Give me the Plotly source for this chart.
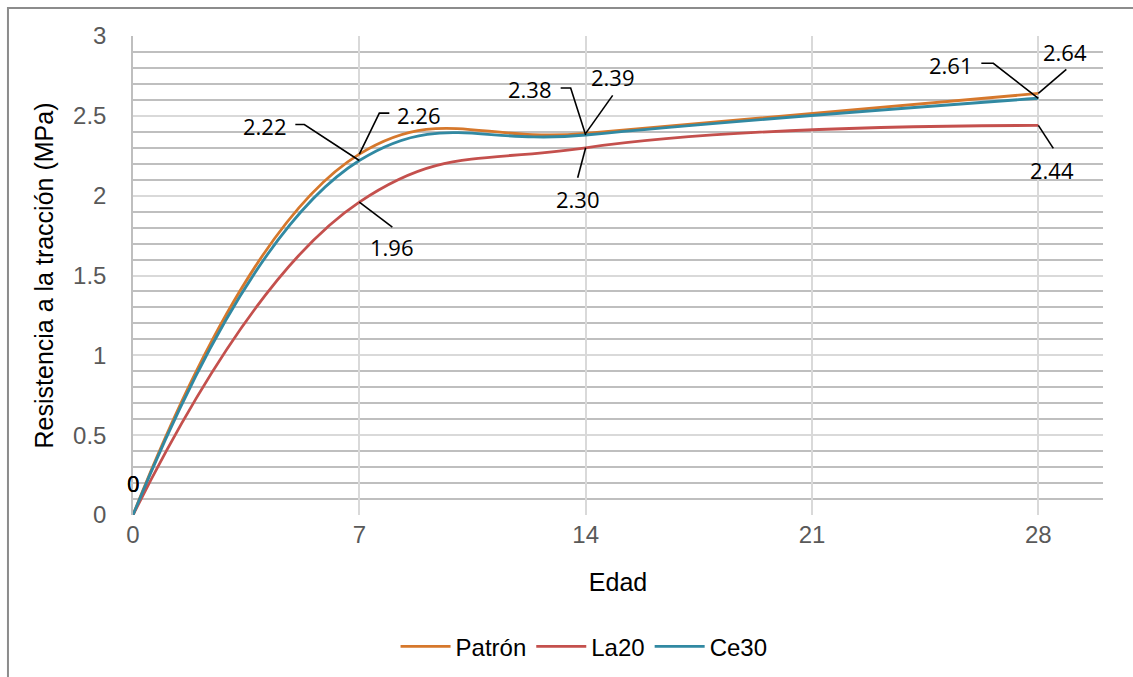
import plotly.graph_objects as go

# Tensile strength (MPa) by curing age (days)
edad = [0, 7, 14, 28]
patron = [0, 2.26, 2.39, 2.64]
la20 = [0, 1.96, 2.30, 2.44]
ce30 = [0, 2.22, 2.38, 2.61]

x_ticks = [0, 7, 14, 21, 28]
y_ticks = [0, 0.5, 1, 1.5, 2, 2.5, 3]

colors = {"Patrón": "#D6782C", "La20": "#C4504D", "Ce30": "#3189A2"}

series = [("Patrón", patron), ("La20", la20), ("Ce30", ce30)]

# Label placement: pixel offset of label centre, and leader polyline (pixels, y up)
label_style = {
    "Patrón": [((0, 32), None), ((60, 39), [(0, 0), (20, 41), (30, 41)]),
               ((27, 56), [(0, 0), (27, 38)]), ((27, 41), [(0, 0), (28, 24)])],
    "La20": [((0, 32), None), ((33, -45), [(0, 0), (33, -25)]),
             ((-8, -51), [(0, 0), (-8, -30)]), ((14, -45), [(0, 0), (15, -23)])],
    "Ce30": [((0, 32), None), ((-94, 35), [(0, 0), (-55, 36), (-64, 36)]),
             ((-56, 46), [(0, 0), (-15, 47), (-25, 47)]),
             ((-87, 33), [(0, 0), (-45, 35), (-57, 35)])],
}

fig = go.Figure()

for name, vals in series:
    fig.add_trace(go.Scatter(
        x=edad, y=vals, name=name, mode="lines",
        line=dict(color=colors[name], width=2.8, shape="spline", smoothing=1.2),
        hoverinfo="x+y+name",
    ))

annotations = []
shapes = []
for name, vals in series:
    for xv, yv, (lab_off, leader) in zip(edad, vals, label_style[name]):
        txt = "0" if yv == 0 else f"{yv:.2f}"
        annotations.append(dict(
            x=xv, y=yv, xref="x", yref="y", text=txt, showarrow=False,
            xshift=lab_off[0], yshift=lab_off[1],
            font=dict(family="Open Sans, Liberation Sans, sans-serif", size=22, color="#000000"),
        ))
        if leader:
            path = "M " + " L ".join(f"{px},{py}" for px, py in leader)
            shapes.append(dict(
                type="path", xref="x", yref="y", xsizemode="pixel", ysizemode="pixel",
                xanchor=xv, yanchor=yv, path=path,
                line=dict(color="#000000", width=1.6), layer="above",
            ))

# Outer chart frame
shapes.append(dict(
    type="rect", xref="paper", yref="paper",
    x0=-0.1289, x1=1.2, y0=-0.5, y1=1.0585,
    line=dict(color="#8C8C8C", width=2), fillcolor="rgba(0,0,0,0)", layer="below",
))

fig.update_layout(
    width=1133, height=677,
    margin=dict(l=133, r=30, t=36, b=162, autoexpand=False),
    paper_bgcolor="white", plot_bgcolor="white",
    font=dict(family="Liberation Sans, Arial, sans-serif", size=24, color="#595959"),
    showlegend=True,
    legend=dict(
        orientation="h", x=0.465, xanchor="center", y=-0.275, yanchor="middle",
        font=dict(size=24, color="#000000"), itemwidth=50, traceorder="normal",
        bgcolor="rgba(0,0,0,0)",
    ),
    annotations=annotations,
    shapes=shapes,
)

fig.update_xaxes(
    range=[0, 30], tickvals=x_ticks, ticktext=[str(v) for v in x_ticks],
    showgrid=True, gridcolor="#D9D9D9", gridwidth=1.5,
    zeroline=False, showline=False, ticks="", automargin=False,
    ticklabelstandoff=3,
    tickfont=dict(size=24, color="#595959"),
    title=dict(text="Edad", font=dict(size=25, color="#000000"), standoff=26),
)

fig.update_yaxes(
    range=[0, 3], tickvals=y_ticks, ticktext=[f"{v:g}" for v in y_ticks],
    showgrid=True, gridcolor="#D9D9D9", gridwidth=1.5,
    minor=dict(dtick=0.1, showgrid=True, gridcolor="#BFBFBF", gridwidth=1.5, ticks=""),
    zeroline=False, showline=True, linecolor="#BFBFBF", linewidth=1.5, ticks="", automargin=False,
    ticklabelstandoff=20,
    tickfont=dict(size=24, color="#595959"),
    title=dict(text="Resistencia a la tracción (MPa)", font=dict(size=25, color="#000000"), standoff=12),
)

fig.write_html("out.html")
